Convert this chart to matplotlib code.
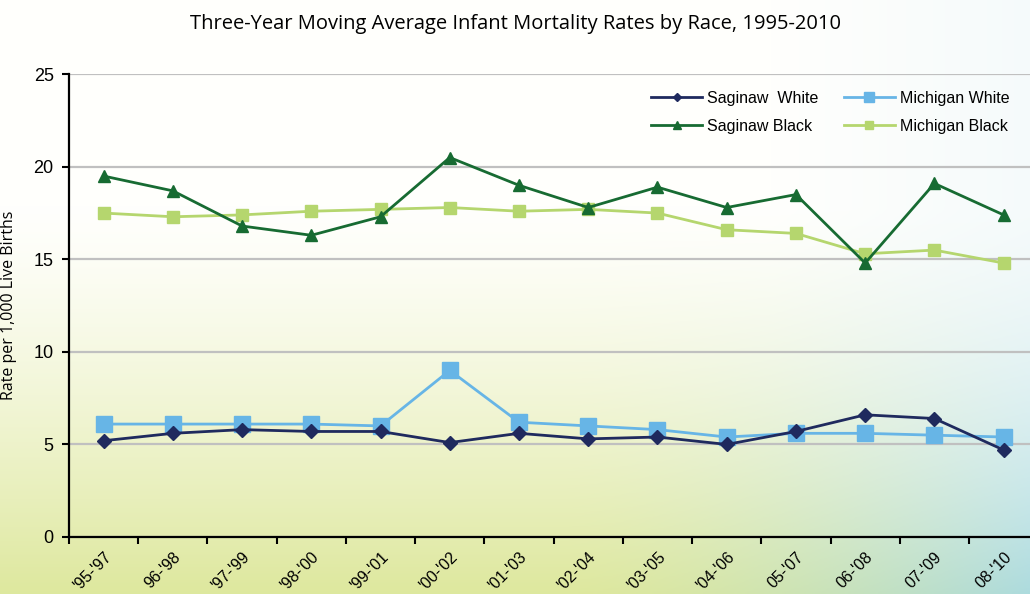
import numpy as np
import matplotlib.pyplot as plt

periods = ["'95-'97", "96-'98", "'97-'99", "'98-'00", "'99-'01", "'00-'02", "'01-'03",
           "'02-'04", "'03-'05", "'04-'06", "05-'07", "06-'08", "07-'09", "08-'10"]
saginaw_white = [5.2, 5.6, 5.8, 5.7, 5.7, 5.1, 5.6, 5.3, 5.4, 5.0, 5.7, 6.6, 6.4, 4.7]
michigan_white = [6.1, 6.1, 6.1, 6.1, 6.0, 9.0, 6.2, 6.0, 5.8, 5.4, 5.6, 5.6, 5.5, 5.4]
saginaw_black = [19.5, 18.7, 16.8, 16.3, 17.3, 20.5, 19.0, 17.8, 18.9, 17.8, 18.5, 14.8, 19.1, 17.4]
michigan_black = [17.5, 17.3, 17.4, 17.6, 17.7, 17.8, 17.6, 17.7, 17.5, 16.6, 16.4, 15.3, 15.5, 14.8]

fig = plt.figure(figsize=(10.30, 5.94), dpi=100)

# soft background: white at top, yellow-green lower left, pale teal lower right
h, w = 200, 340
yy, xx = np.mgrid[0:1:h * 1j, 0:1:w * 1j]
top = np.array([1.0, 1.0, 0.99])
green = np.array([0.87, 0.91, 0.62])
teal = np.array([0.68, 0.86, 0.87])
t = np.clip((yy - 0.35) / 0.65, 0, 1) ** 1.3
side = np.clip((xx - 0.55) / 0.45, 0, 1) ** 1.5
low = green * (1 - side[..., None]) + teal * side[..., None]
rightwash = np.clip((xx - 0.75) / 0.25, 0, 1)[..., None] * 0.25 * (1 - t[..., None])
img = top * (1 - t[..., None]) + low * t[..., None]
img = img * (1 - rightwash) + np.array([0.85, 0.93, 0.97]) * rightwash
bg = fig.add_axes([0, 0, 1, 1], zorder=0)
bg.imshow(img, aspect='auto', extent=[0, 1, 0, 1], origin='upper')
bg.axis('off')

ax = fig.add_axes([0.067, 0.096, 0.941, 0.779], zorder=1)
ax.patch.set_alpha(0)
x = np.arange(len(periods))

l1, = ax.plot(x, saginaw_white, color='#1f2a5e', marker='D', markersize=7, linewidth=2, label='Saginaw  White', zorder=5)
l2, = ax.plot(x, michigan_white, color='#67b5e6', marker='s', markersize=11, linewidth=2, label='Michigan White', zorder=4)
l3, = ax.plot(x, saginaw_black, color='#176b32', marker='^', markersize=9, linewidth=2, label='Saginaw Black', zorder=5)
l4, = ax.plot(x, michigan_black, color='#b5d66e', marker='s', markersize=9, linewidth=2, label='Michigan Black', zorder=4)

ax.set_xlim(-0.5, len(periods) - 0.5)
ax.set_ylim(0, 25)
ax.set_yticks([0, 5, 10, 15, 20, 25])
ax.yaxis.grid(True, color='#c0c0c0', linewidth=1.6)
ax.set_axisbelow(True)

ax.set_xticks(x - 0.5, minor=False)
ax.set_xticklabels([])
ax.set_xticks(x, minor=True)
ax.set_xticklabels(periods, minor=True, rotation=45, ha='right', va='top',
                   rotation_mode='anchor', fontsize=11.5, family='Liberation Sans')
ax.tick_params(axis='x', which='minor', length=0, pad=9)
ax.tick_params(axis='x', which='major', length=5, width=1.5, direction='out')
ax.tick_params(axis='y', length=5, width=1.5, labelsize=13, pad=6)
for lbl in ax.get_yticklabels():
    lbl.set_family('Liberation Sans')

for s in ['top', 'right']:
    ax.spines[s].set_visible(False)
ax.spines['left'].set_linewidth(1.6)
ax.spines['bottom'].set_linewidth(1.6)

ax.set_ylabel('Rate per 1,000 Live Births', fontsize=11.5, family='Open Sans', labelpad=12)

fig.text(0.5, 0.96, 'Three-Year Moving Average Infant Mortality Rates by Race, 1995-2010',
         ha='center', va='center', fontsize=14.5, family='Open Sans')

# column-wise fill, so order handles to read row by row like the original
ax.legend([l1, l3, l2, l4], [l1.get_label(), l3.get_label(), l2.get_label(), l4.get_label()],
          ncol=2, loc='upper right', bbox_to_anchor=(0.985, 0.995), frameon=False,
          prop={'family': 'Liberation Sans', 'size': 11.5},
          handlelength=3.2, columnspacing=1.6, labelspacing=0.8, handletextpad=0.3,
          markerscale=0.6)

fig.savefig('out.png', dpi=100)
